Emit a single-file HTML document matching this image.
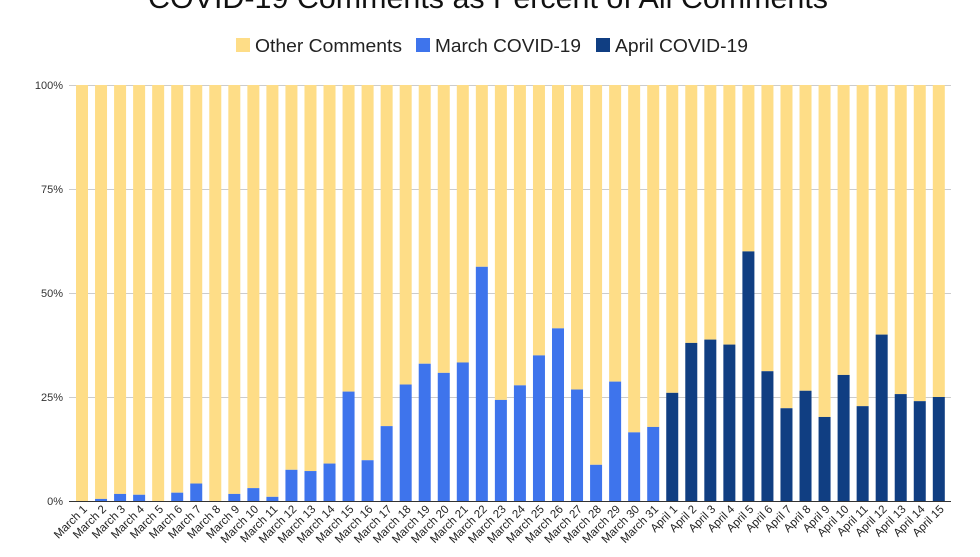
<!DOCTYPE html>
<html><head><meta charset="utf-8"><style>
body{margin:0;background:#fff;width:980px;height:552px;overflow:hidden;font-family:"Liberation Sans",Arial,sans-serif}
</style></head><body>
<svg id="s" width="980" height="552" xmlns="http://www.w3.org/2000/svg" font-family="Liberation Sans, Arial, sans-serif">
<text x="488" y="8" font-size="30" text-anchor="middle" fill="#111" textLength="680" lengthAdjust="spacingAndGlyphs">COVID-19 Comments as Percent of All Comments</text>
<rect x="236" y="38" width="14" height="14" fill="#fedd87"/>
<text x="255" y="52" font-size="18" fill="#222" textLength="147" lengthAdjust="spacingAndGlyphs">Other Comments</text>
<rect x="416" y="38" width="14" height="14" fill="#3e74ec"/>
<text x="435" y="52" font-size="18" fill="#222" textLength="146" lengthAdjust="spacingAndGlyphs">March COVID-19</text>
<rect x="596" y="38" width="14" height="14" fill="#103e82"/>
<text x="615" y="52" font-size="18" fill="#222" textLength="133" lengthAdjust="spacingAndGlyphs">April COVID-19</text>
<g font-size="11" fill="#333" text-anchor="end">
<text x="63" y="89">100%</text><text x="63" y="193">75%</text><text x="63" y="297">50%</text><text x="63" y="401">25%</text><text x="63" y="505">0%</text>
</g>
<g stroke="#ccc" stroke-width="1">
<line x1="69" x2="951" y1="85.5" y2="85.5"/><line x1="69" x2="951" y1="189.5" y2="189.5"/><line x1="69" x2="951" y1="293.5" y2="293.5"/><line x1="69" x2="951" y1="397.5" y2="397.5"/>
</g>
<g id="bars"></g>
<line x1="69" x2="951" y1="501.5" y2="501.5" stroke="#333" stroke-width="1"/>
<g id="labels" font-size="11.5" fill="#222"></g>
</svg>
<script>
var m=[0,0.5,1.7,1.5,0,2,4.2,0,1.7,3.1,1,7.5,7.2,9,26.3,9.8,18,28,33,30.8,33.3,56.3,24.3,27.8,35,41.5,26.8,8.7,28.7,16.5,17.8];
var a=[26,38,38.8,37.6,60,31.2,22.3,26.5,20.2,30.3,22.8,40,25.7,24,25];
var b=document.getElementById('bars'),l=document.getElementById('labels'),h='',t='';
var all=m.map(function(v,i){return[v,'#3e74ec','March '+(i+1)]}).concat(a.map(function(v,i){return[v,'#103e82','April '+(i+1)]}));
all.forEach(function(d,i){var x=76+i*19.04,y0=85,y1=501,hh=d[0]/100*416;
h+='<rect x="'+x+'" y="'+y0+'" width="12" height="'+(416-hh)+'" fill="#fedd87"/>';
if(hh>0)h+='<rect x="'+x+'" y="'+(y1-hh)+'" width="12" height="'+hh+'" fill="'+d[1]+'"/>';
var cx=x+9,cy=507;t+='<text text-anchor="end" transform="translate('+cx+','+cy+') rotate(-45)" dy="4">'+d[2]+'</text>';});
b.innerHTML=h;l.innerHTML=t;
</script>
</body></html>
